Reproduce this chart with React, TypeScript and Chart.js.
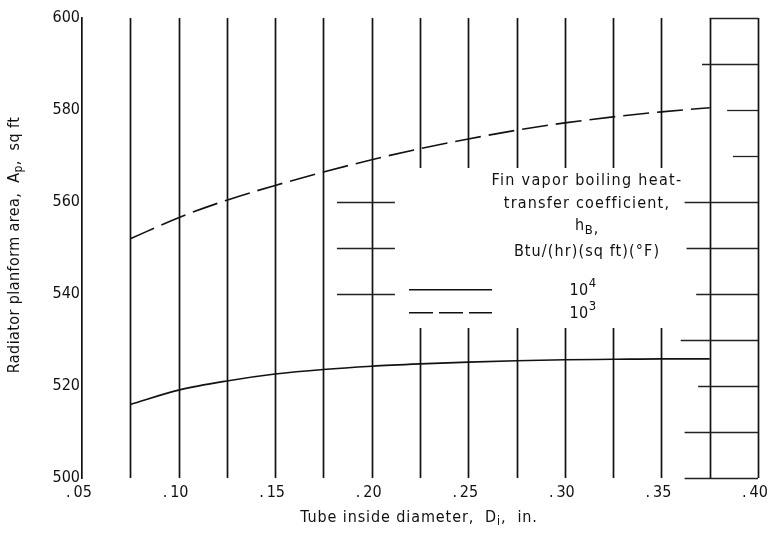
import { useEffect, useRef } from "react";
import { Chart, registerables } from "chart.js";

Chart.register(...registerables);

// Tube inside diameter, in.
const diameters = [0.075, 0.1, 0.125, 0.15, 0.175, 0.2, 0.225, 0.25, 0.275, 0.3, 0.325, 0.35, 0.375];
// Radiator planform area, sq ft, for h_B = 10^4 Btu/(hr)(sq ft)(°F)
const areaCoeff4 = [516.0, 519.1, 521.1, 522.6, 523.6, 524.3, 524.8, 525.2, 525.5, 525.7, 525.8, 525.9, 525.9];
// Radiator planform area, sq ft, for h_B = 10^3 Btu/(hr)(sq ft)(°F)
const areaCoeff3 = [552.0, 556.6, 560.4, 563.6, 566.5, 569.2, 571.6, 573.7, 575.6, 577.2, 578.5, 579.6, 580.5];

const xTickValues = [0.05, 0.1, 0.15, 0.2, 0.25, 0.3, 0.35, 0.4];
const yTickValues = [500, 520, 540, 560, 580, 600];
const verticalRules = [0.075, 0.1, 0.125, 0.15, 0.175, 0.2, 0.225, 0.25, 0.275, 0.3, 0.325, 0.35, 0.375, 0.4];
const keyExponents = ["4", "3"];

const FONT = '"DejaVu Sans Condensed", "Liberation Sans", sans-serif';
const INK = "#111";

type Run = { t: string; dy?: number; size?: number };

function drawRuns(ctx: CanvasRenderingContext2D, runs: Run[], x: number, y: number, size: number, spacing = 0) {
  ctx.save();
  (ctx as any).letterSpacing = spacing + "px";
  const widths = runs.map((r) => {
    ctx.font = `${r.size ?? size}px ${FONT}`;
    return ctx.measureText(r.t).width;
  });
  const total = widths.reduce((a, b) => a + b, 0);
  let cx = x - total / 2;
  ctx.textBaseline = "middle";
  ctx.textAlign = "left";
  runs.forEach((r, i) => {
    ctx.font = `${r.size ?? size}px ${FONT}`;
    ctx.fillText(r.t, cx, y + (r.dy ?? 0));
    cx += widths[i];
  });
  ctx.restore();
}

const framePlugin = {
  id: "frame",
  beforeDatasetsDraw(chart: any) {
    const { ctx, scales } = chart;
    const xs = scales.x;
    const ys = scales.y;
    const px = (v: number) => xs.getPixelForValue(v);
    const py = (v: number) => ys.getPixelForValue(v);
    ctx.save();
    ctx.strokeStyle = INK;
    ctx.lineWidth = 1.7;
    // vertical rules; the middle ones stop around the key block
    verticalRules.forEach((v) => {
      const x = Math.round(px(v)) + 0.5;
      ctx.beginPath();
      if (v >= 0.225 && v <= 0.35) {
        ctx.moveTo(x, py(600));
        ctx.lineTo(x, py(567.4));
        ctx.moveTo(x, py(532.6));
        ctx.lineTo(x, py(500));
      } else {
        ctx.moveTo(x, py(600));
        ctx.lineTo(x, py(500));
      }
      ctx.stroke();
    });
    // horizontal rules kept in the right-hand band and beside the key
    const rows: [number, number, number][] = [
      [600, 0.375, 0.4],
      [590, 0.371, 0.4],
      [580, 0.384, 0.4],
      [570, 0.387, 0.4],
      [560, 0.362, 0.4],
      [550, 0.363, 0.4],
      [540, 0.368, 0.4],
      [530, 0.36, 0.4],
      [520, 0.369, 0.4],
      [510, 0.362, 0.4],
      [500, 0.362, 0.4],
      [560, 0.182, 0.212],
      [550, 0.182, 0.212],
      [540, 0.182, 0.212],
    ];
    ctx.lineWidth = 1.3;
    ctx.strokeStyle = "#222";
    rows.forEach(([v, a, b]) => {
      const y = Math.round(py(v)) + 0.5;
      ctx.beginPath();
      ctx.moveTo(px(a), y);
      ctx.lineTo(px(b), y);
      ctx.stroke();
    });
    ctx.restore();
  },
  afterDraw(chart: any) {
    const { ctx, scales } = chart;
    const xs = scales.x;
    const ys = scales.y;
    const px = (v: number) => xs.getPixelForValue(v);
    const py = (v: number) => ys.getPixelForValue(v);
    ctx.save();
    ctx.fillStyle = INK;

    // axis titles
    drawRuns(
      ctx,
      [{ t: "Tube inside diameter,  D" }, { t: "i", dy: 4, size: 12 }, { t: ",  in." }],
      419,
      518,
      16,
      0.9
    );
    ctx.save();
    ctx.translate(15, 245);
    ctx.rotate(-Math.PI / 2);
    drawRuns(
      ctx,
      [{ t: "Radiator planform area,  A" }, { t: "p", dy: 4, size: 12 }, { t: ",  sq ft" }],
      0,
      0,
      16,
      0.4
    );
    ctx.restore();

    // key
    const kx = 587;
    drawRuns(ctx, [{ t: "Fin vapor boiling heat-" }], kx, 181, 16, 1.3);
    drawRuns(ctx, [{ t: "transfer coefficient," }], kx, 204, 16, 1.2);
    drawRuns(ctx, [{ t: "h" }, { t: "B", dy: 5, size: 13 }, { t: ",", dy: 3 }], kx, 226, 16, 0.8);
    drawRuns(ctx, [{ t: "Btu/(hr)(sq ft)(°F)" }], kx, 252, 16, 1.1);

    const keyX0 = px(0.2193);
    const keyX1 = px(0.2623);
    const keyRows = [py(540.9), py(535.9)];
    ctx.strokeStyle = INK;
    ctx.lineWidth = 1.5;
    keyRows.forEach((y, i) => {
      ctx.beginPath();
      ctx.setLineDash(i === 0 ? [] : [24, 6]);
      ctx.moveTo(keyX0, y);
      ctx.lineTo(keyX1, y);
      ctx.stroke();
      drawRuns(ctx, [{ t: "10" }, { t: keyExponents[i], dy: -7, size: 13 }], 583, y + 1, 16, 0.4);
    });
    ctx.setLineDash([]);
    ctx.restore();
  },
};

export default function App() {
  const ref = useRef<HTMLCanvasElement>(null);
  useEffect(() => {
    document.body.style.margin = "0";
    const canvas = ref.current!;
    const chart = new Chart(canvas, {
      type: "line",
      data: {
        labels: diameters,
        datasets: [
          {
            label: "10^4",
            data: diameters.map((d, i) => ({ x: d, y: areaCoeff4[i] })),
            borderColor: INK,
            borderWidth: 1.6,
            pointRadius: 0,
            cubicInterpolationMode: "monotone",
            fill: false,
          },
          {
            label: "10^3",
            data: diameters.map((d, i) => ({ x: d, y: areaCoeff3[i] })),
            borderColor: INK,
            borderWidth: 1.6,
            borderDash: [26, 8],
            pointRadius: 0,
            cubicInterpolationMode: "monotone",
            fill: false,
          },
        ],
      },
      options: {
        responsive: false,
        animation: false,
        layout: { padding: { top: 18, right: 11, left: 0, bottom: 0 } },
        plugins: { legend: { display: false }, tooltip: { enabled: false } },
        scales: {
          x: {
            type: "linear",
            min: 0.05,
            max: 0.4,
            afterFit: (s: any) => {
              s.height = 55;
              s.paddingLeft = 0;
              s.paddingRight = 0;
            },
            afterBuildTicks: (s: any) => {
              s.ticks = xTickValues.map((v) => ({ value: v }));
            },
            grid: { display: false, drawTicks: false },
            border: { display: false },
            ticks: {
              padding: 5,
              labelOffset: -3,
              color: INK,
              font: { family: FONT, size: 16 },
              callback: (v: any) => ".\u2009" + Number(v).toFixed(2).slice(2),
            },
          },
          y: {
            type: "linear",
            min: 500,
            max: 600,
            afterFit: (s: any) => {
              s.width = 82;
              s.paddingTop = 0;
              s.paddingBottom = 0;
            },
            afterBuildTicks: (s: any) => {
              s.ticks = yTickValues.map((v) => ({ value: v }));
            },
            grid: { display: false, drawTicks: false },
            border: { display: true, color: INK, width: 1.7 },
            ticks: {
              padding: 2,
              color: INK,
              font: { family: FONT, size: 16 },
            },
          },
        },
      },
      plugins: [framePlugin],
    });
    return () => chart.destroy();
  }, []);
  return <canvas ref={ref} width={769} height={533} style={{ display: "block" }} />;
}
